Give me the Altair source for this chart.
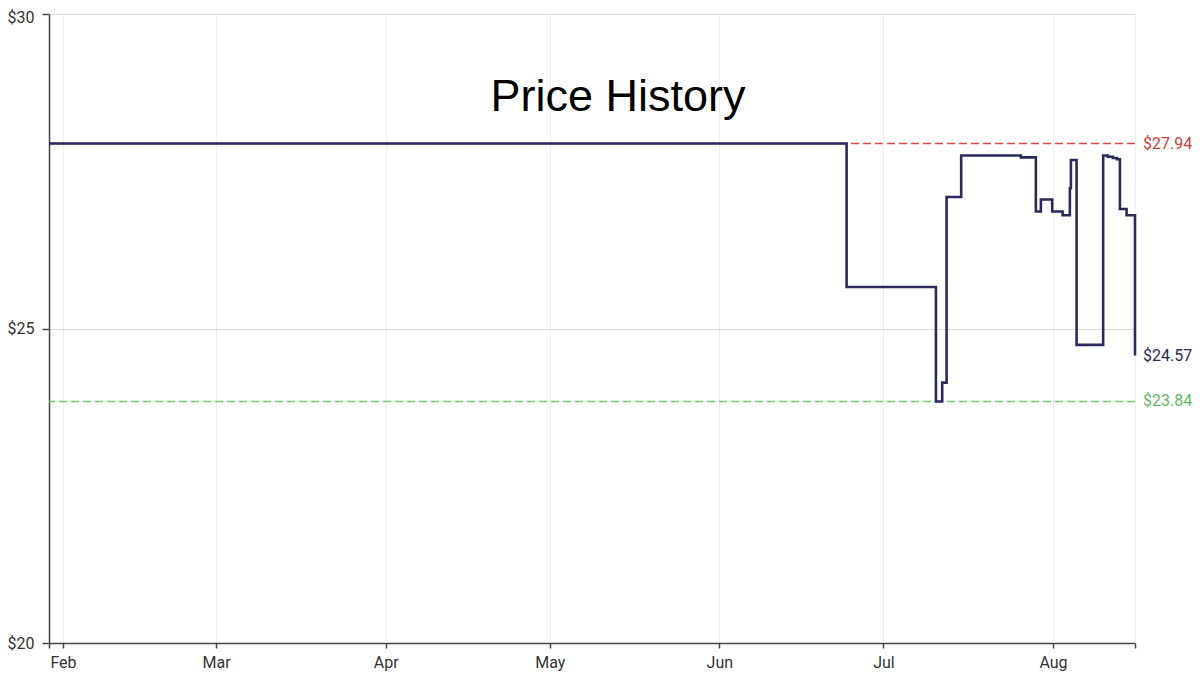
import altair as alt
import pandas as pd

# ---- data ----
dates = [
    "2023-01-29T10:30", "2023-06-24T06:30", "2023-07-10T14:24", "2023-07-11T18:00",
    "2023-07-12T13:12", "2023-07-15T05:17", "2023-07-26T03:22", "2023-07-28T21:00",
    "2023-07-29T19:00", "2023-07-31T20:38", "2023-08-02T18:14", "2023-08-04T02:10",
    "2023-08-04T06:43", "2023-08-05T07:41", "2023-08-10T04:19", "2023-08-11T01:00",
    "2023-08-11T23:00", "2023-08-12T16:30", "2023-08-13T05:45", "2023-08-14T11:00",
    "2023-08-16T00:00",
]
prices = [
    27.94, 25.66, 23.84, 24.14,
    27.09, 27.75, 27.72, 26.86,
    27.05, 26.86, 26.80, 27.23,
    27.68, 24.74, 27.75, 27.73,
    27.71, 27.69, 26.90, 26.80,
    24.57,
]

ref_prices = [27.94, 23.84]
ref_colors = ["#dc4a44", "#74c874"]
label_prices = [27.94, 24.57, 23.84]
label_texts = ["$27.94", "$24.57", "$23.84"]
label_colors = ["#c9403a", "#2b2a55", "#62b862"]
month_ticks = ["2023-02-01", "2023-03-01", "2023-04-01", "2023-05-01",
               "2023-06-01", "2023-07-01", "2023-08-01"]

start = alt.DateTime(year=2023, month=1, date=29, hours=10, minutes=30)
end = alt.DateTime(year=2023, month=8, date=16)
tick_values = [start] + [
    alt.DateTime(year=2023, month=int(m[5:7]), date=1) for m in month_ticks
] + [end]

price_df = pd.DataFrame({"date": dates, "price": prices})
ref_df = pd.DataFrame({"price": ref_prices, "color": ref_colors})
lab_df = pd.DataFrame({
    "date": [dates[-1]] * 3,
    "price": label_prices,
    "text": label_texts,
    "color": label_colors,
})

xscale = alt.Scale(domain=[start, end])
yscale = alt.Scale(domain=[20, 30], nice=False, zero=False)

base_x = alt.X(
    "date:T", scale=xscale, title=None,
    axis=alt.Axis(
        values=tick_values,
        labelExpr="date(datum.value) == 1 && hours(datum.value) == 0 ? timeFormat(datum.value, '%b') : ''",
        grid=True, gridColor="#efefef", gridWidth=1,
        domainColor="#444444", domainWidth=1.5,
        tickColor="#444444", tickWidth=1.5, tickSize=5,
        labelFont="Roboto", labelFontSize=16, labelColor="#333333",
        labelPadding=6, labelFlush=False,
    ),
)
base_y = alt.Y(
    "price:Q", scale=yscale, title=None,
    axis=alt.Axis(
        values=[20, 25, 30], format="$.0f",
        grid=True, gridColor="#dcdcdc", gridWidth=1,
        domainColor="#444444", domainWidth=1.5,
        tickColor="#444444", tickWidth=1.5, tickSize=7,
        labelFont="Roboto", labelFontSize=16, labelColor="#333333",
        labelPadding=8,
        labelOffset={"condition": {"test": "datum.value == 30", "value": 3}, "value": 0},
    ),
)

line = alt.Chart(price_df).mark_line(
    interpolate="step-after", color="#2b2a5c", strokeWidth=2.6
).encode(x=base_x, y=base_y)

rules = alt.Chart(ref_df).mark_rule(strokeDash=[8, 4], strokeWidth=1.5).encode(
    y=alt.Y("price:Q", scale=yscale),
    color=alt.Color("color:N", scale=None),
)

labels = alt.Chart(lab_df).mark_text(
    align="left", baseline="middle", dx=8, font="Roboto", fontSize=16
).encode(
    x=alt.X("date:T", scale=xscale),
    y=alt.Y("price:Q", scale=yscale),
    text="text:N",
    color=alt.Color("color:N", scale=None),
)

title = alt.Chart(pd.DataFrame({"t": ["Price History"]})).mark_text(
    font="Liberation Sans", fontSize=45, color="#000000",
    align="center", baseline="middle",
).encode(x=alt.value(569), y=alt.value(83), text="t:N")

chart = alt.layer(rules, line, labels, title).properties(
    width=1086, height=629,
    autosize=alt.AutoSizeParams(type="none"),
    padding={"left": 41, "top": 6, "right": 57, "bottom": 30},
).configure_view(strokeWidth=0)

chart.save("out.html", embed_options={"renderer": "svg", "actions": False})
